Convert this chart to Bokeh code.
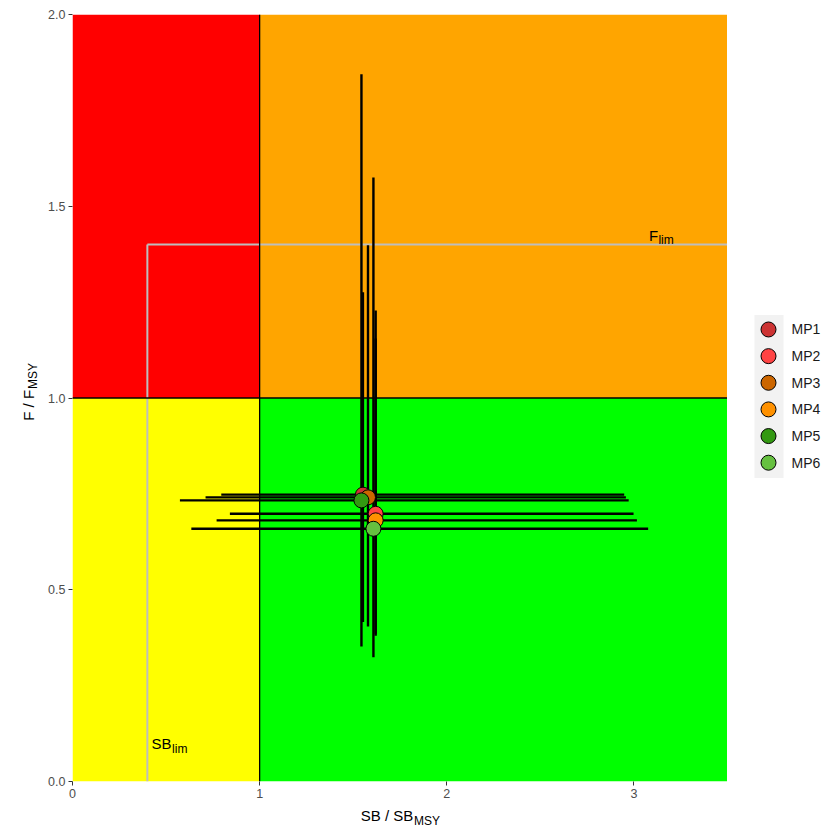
from bokeh.plotting import figure
from bokeh.layouts import column, row
from bokeh.models import (Range1d, Span, Label, ColumnDataSource,
                          FixedTicker, PrintfTickFormatter)
from bokeh.core.properties import value
from bokeh.embed import file_html
from bokeh.resources import INLINE
from math import pi

# ---- data ----
mps = ["MP1", "MP2", "MP3", "MP4", "MP5", "MP6"]
mp_colors = ["#CC3333", "#FF4444", "#CC6600", "#FF9100", "#339912", "#66C040"]
sb = [1.552, 1.620, 1.579, 1.620, 1.544, 1.608]
ff = [0.748, 0.698, 0.741, 0.681, 0.733, 0.659]
sb_lo = [0.795, 0.841, 0.711, 0.770, 0.574, 0.635]
sb_hi = [2.948, 2.998, 2.957, 3.016, 2.972, 3.076]
ff_lo = [0.416, 0.385, 0.404, 0.380, 0.352, 0.324]
ff_hi = [1.276, 1.228, 1.398, 1.155, 1.844, 1.575]

zone_left = [0, 1, 0, 1]
zone_right = [1, 3.5, 1, 3.5]
zone_bottom = [1, 1, 0, 0]
zone_top = [2, 2, 1, 1]
zone_colors = ["#FF0000", "#FFA500", "#FFFF00", "#00FF00"]

sb_msy, f_msy = 1.0, 1.0
sb_lim, f_lim = 0.4, 1.4
x_max, y_max = 3.5, 2.0
x_ticks = [0, 1, 2, 3]
y_ticks = [0, 0.5, 1.0, 1.5, 2.0]

FONT = "Liberation Sans"
H = 806

# ---- main plot ----
p = figure(width=687, height=H, output_backend="svg", toolbar_location=None,
           x_range=Range1d(0, x_max), y_range=Range1d(0, y_max),
           min_border_left=32, min_border_right=0, min_border_top=14, min_border_bottom=25)
p.outline_line_color = None
p.grid.visible = False
p.background_fill_color = "white"

p.quad(left=zone_left, right=zone_right, bottom=zone_bottom, top=zone_top,
       fill_color=zone_colors, line_color=None)
p.add_layout(Span(location=sb_msy, dimension="height", line_color="black", line_width=1.3))
p.add_layout(Span(location=f_msy, dimension="width", line_color="black", line_width=1.3))

p.segment(x0=[sb_lim, sb_lim], y0=[f_lim, 0], x1=[x_max, sb_lim], y1=[f_lim, f_lim],
          line_color="#BEBEBE", line_width=2)

p.segment(x0=sb, y0=ff_lo, x1=sb, y1=ff_hi, line_color="black", line_width=2.4)
p.segment(x0=sb_lo, y0=ff, x1=sb_hi, y1=ff, line_color="black", line_width=2.4)

src = ColumnDataSource(dict(x=sb, y=ff, c=mp_colors, mp=mps))
p.scatter("x", "y", source=src, size=15, fill_color="c", line_color="black", line_width=1)

for ax in (p.xaxis[0], p.yaxis[0]):
    ax.axis_line_color = None
    ax.major_tick_line_color = "#333333"
    ax.major_tick_out = 4
    ax.major_tick_in = 0
    ax.minor_tick_line_color = None
    ax.major_label_text_color = "#4D4D4D"
    ax.major_label_text_font = FONT
    ax.major_label_text_font_size = "12.5px"
    ax.major_label_standoff = 3
p.xaxis.ticker = FixedTicker(ticks=x_ticks)
p.yaxis.ticker = FixedTicker(ticks=y_ticks)
p.yaxis.formatter = PrintfTickFormatter(format="%.1f")

# limit labels (inside frame)
p.add_layout(Label(x=3.08, y=1.424, text="F", text_align="left", text_baseline="middle",
                   text_font=FONT, text_font_size="15px", text_color="black"))
p.add_layout(Label(x=3.131, y=1.411, text="lim", text_align="left", text_baseline="middle",
                   text_font=FONT, text_font_size="12px", text_color="black"))
p.add_layout(Label(x=0.422, y=0.099, text="SB", text_align="left", text_baseline="middle",
                   text_font=FONT, text_font_size="15px", text_color="black"))
p.add_layout(Label(x=0.532, y=0.086, text="lim", text_align="left", text_baseline="middle",
                   text_font=FONT, text_font_size="12px", text_color="black"))

# ---- legend panel (keys indexed 0..5 from top) ----
leg = figure(width=98, height=H, output_backend="svg", toolbar_location=None,
             x_range=Range1d(0, 98), y_range=Range1d((H - 331) / 28, -331 / 28),
             x_axis_type=None, y_axis_type=None, min_border=0)
leg.outline_line_color = None
leg.grid.visible = False
leg.quad(left=[27], right=[56], top=[-0.54], bottom=[5.57], fill_color="#F2F2F2", line_color=None)
leg_src = ColumnDataSource(dict(i=list(range(len(mps))), c=mp_colors, mp=mps))
leg.scatter(x=41, y="i", source=leg_src, size=15, fill_color="c", line_color="black", line_width=1)
leg.text(x=64, y="i", text="mp", source=leg_src, text_align="left", text_baseline="middle",
         text_font=value(FONT), text_font_size="14px", text_color="#1A1A1A")

# ---- y-axis title panel ----
ylab = figure(width=40, height=H, output_backend="svg", toolbar_location=None,
              x_range=Range1d(0, 40), y_range=Range1d(0, H),
              x_axis_type=None, y_axis_type=None, min_border=0)
ylab.outline_line_color = None
ylab.grid.visible = False
ylab.text(x=[28], y=[411.5], text=["F / F"], angle=pi / 2, text_align="right",
          text_baseline="middle", text_font=value(FONT), text_font_size="15px", text_color="black")
ylab.text(x=[32], y=[412.5], text=["MSY"], angle=pi / 2, text_align="left",
          text_baseline="middle", text_font=value(FONT), text_font_size="12px", text_color="black")

# ---- x-axis title panel ----
xlab = figure(width=825, height=826 - H, output_backend="svg", toolbar_location=None,
              x_range=Range1d(0, 825), y_range=Range1d(0, 826 - H),
              x_axis_type=None, y_axis_type=None, min_border=0)
xlab.outline_line_color = None
xlab.grid.visible = False
xlab.text(x=[412.8], y=[11], text=["SB / SB"], text_align="right", text_baseline="middle",
          text_font=value(FONT), text_font_size="15px", text_color="black")
xlab.text(x=[413.5], y=[6], text=["MSY"], text_align="left", text_baseline="middle",
          text_font=value(FONT), text_font_size="12px", text_color="black")

layout = column(row(ylab, p, leg, spacing=0), xlab, spacing=0)

open("out.html", "w").write(file_html(layout, INLINE))
